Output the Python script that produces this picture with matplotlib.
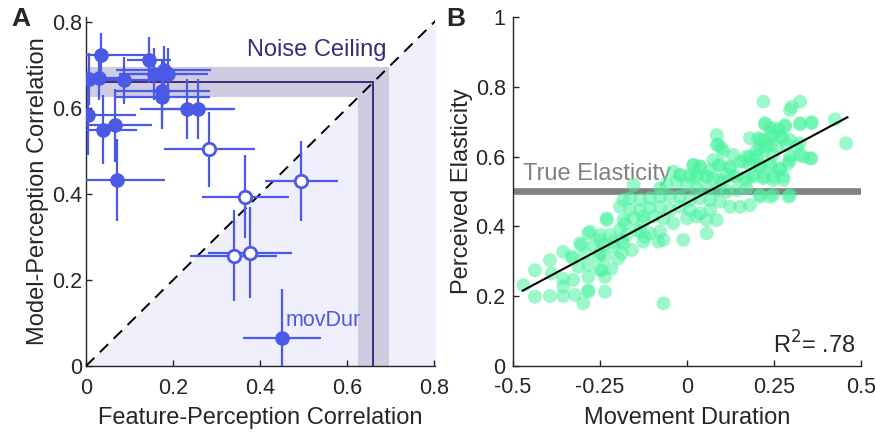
import matplotlib
matplotlib.use("Agg")
import matplotlib.pyplot as plt
import numpy as np

plt.rcParams['font.family'] = ['Liberation Sans', 'DejaVu Sans']

# ---------------- Panel A data ----------------
filled_x = [0.034, 0.145, 0.008, 0.030, 0.088, 0.156, 0.178, 0.189, 0.174, 0.175,
            0.233, 0.256, 0.005, 0.038, 0.067, 0.072, 0.450]
filled_y = [0.723, 0.712, 0.667, 0.669, 0.664, 0.679, 0.687, 0.679, 0.640, 0.626,
            0.598, 0.598, 0.584, 0.549, 0.560, 0.433, 0.066]
filled_xerr = [0.110, 0.050, 0.060, 0.060, 0.090, 0.080, 0.110, 0.090, 0.110, 0.110,
               0.110, 0.080, 0.110, 0.080, 0.085, 0.110, 0.090]
filled_yerr = [0.050, 0.053, 0.060, 0.050, 0.054, 0.060, 0.056, 0.060, 0.070, 0.074,
               0.070, 0.070, 0.093, 0.080, 0.085, 0.095, 0.112]

open_x = [0.283, 0.494, 0.366, 0.339, 0.377]
open_y = [0.504, 0.430, 0.394, 0.256, 0.263]
open_xerr = [0.105, 0.084, 0.099, 0.100, 0.097]
open_yerr = [0.087, 0.094, 0.097, 0.106, 0.106]

noise_ceiling = 0.66
noise_band = [0.625, 0.695]

# ---------------- Panel B data ----------------
mov_dur = [
    0.296, 0.225, 0.253, 0.282, 0.325, 0.358, 0.086, 0.181, 0.210, 0.239,
    0.268, 0.296, 0.325, 0.086, 0.105, 0.134, 0.172, 0.201, 0.229, 0.258,
    0.296, 0.325, 0.354, 0.076, 0.095, 0.124, 0.153, 0.181, 0.210, 0.239,
    0.268, 0.019, 0.038, -0.039, -0.020, 0.009, 0.028, 0.057, 0.076, 0.105,
    0.134, 0.162, 0.191, 0.220, 0.248, 0.277, -0.153, -0.077, -0.058, -0.029,
    0.000, 0.028, 0.057, 0.086, 0.114, 0.143, 0.172, 0.210, 0.239, 0.292,
    -0.182, -0.163, -0.134, -0.106, -0.077, -0.048, -0.020, 0.009, 0.038, 0.067,
    0.095, 0.124, 0.153, 0.181, -0.192, -0.163, -0.134, -0.106, -0.077, -0.048,
    -0.020, 0.009, 0.038, 0.067, -0.230, -0.182, -0.153, -0.125, -0.096, -0.067,
    -0.039, 0.000, 0.028, 0.057, 0.086, -0.278, -0.249, -0.220, -0.192, -0.173,
    -0.134, -0.106, -0.077, 0.057, -0.307, -0.268, -0.240, -0.211, -0.182, -0.125,
    -0.067, -0.010,
    0.220, 0.301, 0.325, 0.425, 0.457,
    -0.469, -0.436, -0.436, -0.393, -0.388, -0.393, -0.355, -0.355, -0.355, -0.355,
    -0.331, -0.326, -0.321, -0.297, -0.283, -0.283, -0.283, -0.254, -0.244, -0.235,
    -0.216, -0.197, -0.158, -0.067, -0.249, -0.249, -0.283, -0.326,
    0.358, 0.224, 0.239, 0.263, 0.282, 0.325, 0.205, 0.224, 0.248, 0.277,
    0.090, 0.100, 0.210, 0.239, 0.287, 0.315, 0.181, 0.201, 0.220, 0.248,
    0.296, 0.334, 0.358, 0.291, 0.019, 0.038, 0.067, 0.090, 0.124, 0.162,
    0.191, 0.210, 0.239, 0.268, -0.020, 0.009, 0.028, 0.057, 0.095, 0.114,
    0.143, 0.172, 0.191, 0.220, 0.248, 0.277, 0.210, 0.248, 0.296,
    -0.302, -0.283, -0.249, -0.230, -0.211, -0.187, -0.177, -0.144, -0.125, -0.120,
    -0.082, -0.187, -0.235, -0.292, -0.311, -0.235,
]
perc_elast = [
    0.734, 0.696, 0.681, 0.691, 0.696, 0.696, 0.662, 0.653, 0.648, 0.662,
    0.657, 0.648, 0.638, 0.634, 0.614, 0.605, 0.600, 0.619, 0.629, 0.629,
    0.590, 0.605, 0.595, 0.590, 0.576, 0.567, 0.586, 0.576, 0.571, 0.581,
    0.562, 0.576, 0.571, 0.557, 0.547, 0.543, 0.547, 0.543, 0.538, 0.528,
    0.543, 0.538, 0.543, 0.543, 0.533, 0.543, 0.519, 0.509, 0.523, 0.528,
    0.519, 0.509, 0.509, 0.504, 0.500, 0.504, 0.509, 0.485, 0.485, 0.485,
    0.476, 0.480, 0.476, 0.480, 0.485, 0.485, 0.485, 0.476, 0.480, 0.476,
    0.471, 0.456, 0.456, 0.461, 0.456, 0.447, 0.447, 0.452, 0.456, 0.447,
    0.456, 0.447, 0.437, 0.447, 0.423, 0.418, 0.423, 0.428, 0.428, 0.423,
    0.409, 0.423, 0.428, 0.418, 0.418, 0.385, 0.375, 0.375, 0.390, 0.375,
    0.385, 0.380, 0.385, 0.380, 0.351, 0.346, 0.346, 0.356, 0.351, 0.356,
    0.361, 0.361,
    0.758, 0.743, 0.758, 0.707, 0.638,
    0.231, 0.274, 0.198, 0.303, 0.265, 0.200, 0.327, 0.250, 0.227, 0.200,
    0.313, 0.246, 0.203, 0.179, 0.289, 0.255, 0.212, 0.313, 0.274, 0.212,
    0.279, 0.308, 0.332, 0.179, 0.322, 0.275, 0.217, 0.308,
    0.699, 0.693, 0.682, 0.677, 0.686, 0.693, 0.653, 0.648, 0.662, 0.653,
    0.634, 0.624, 0.629, 0.634, 0.634, 0.629, 0.600, 0.600, 0.615, 0.605,
    0.600, 0.600, 0.595, 0.581, 0.576, 0.572, 0.562, 0.576, 0.572, 0.586,
    0.591, 0.576, 0.572, 0.567, 0.548, 0.548, 0.538, 0.543, 0.533, 0.548,
    0.543, 0.533, 0.548, 0.538, 0.543, 0.533, 0.490, 0.490, 0.490,
    0.346, 0.380, 0.361, 0.418, 0.341, 0.360, 0.408, 0.389, 0.413, 0.370,
    0.356, 0.322, 0.313, 0.322, 0.284, 0.255,
]
fit_x = [-0.471, 0.461]
fit_slope = 0.534
fit_intercept = 0.467
true_elasticity = 0.5

# ---------------- Styling ----------------
blue = '#4a5ae6'
dark_purple = '#3d2b78'
band_col = '#cfcbe1'
tri_col = '#efeffb'
axis_col = '#262626'
green = '#4cf3a0'
label_fs = 17
tick_fs = 15.5

fig = plt.figure(figsize=(8.75, 4.32), dpi=100)

def style_axes(ax, ypad=3):
    for s in ['top', 'right']:
        ax.spines[s].set_visible(False)
    for s in ['left', 'bottom']:
        ax.spines[s].set_color(axis_col)
        ax.spines[s].set_linewidth(1.0)
    ax.tick_params(direction='in', length=4, width=1.0, colors=axis_col,
                   labelsize=tick_fs)
    ax.tick_params(axis='x', pad=8.5)
    ax.tick_params(axis='y', pad=ypad)

# ---------------- Panel A ----------------
axA = fig.add_axes([0.0983, 0.1528, 0.3992, 0.8085])
axA.set_xlim(0, 0.802)
axA.set_ylim(0, 0.812)
axA.fill_between([0, 0.802], [0, 0.802], [0, 0], color=tri_col, lw=0, zorder=0)
axA.fill_between([0, noise_band[1]], [noise_band[0]] * 2, [noise_band[1]] * 2,
                 color=band_col, lw=0, zorder=1)
axA.fill_between([noise_band[0], noise_band[1]], [0, 0], [noise_band[0]] * 2,
                 color=band_col, lw=0, zorder=1)
axA.plot([0, noise_ceiling], [noise_ceiling, noise_ceiling], color=dark_purple, lw=1.4, zorder=2)
axA.plot([noise_ceiling, noise_ceiling], [0, noise_ceiling], color=dark_purple, lw=1.4, zorder=2)
axA.plot([0, 0.812], [0, 0.812], color='black', lw=1.4, dashes=(6, 4), zorder=3)

axA.errorbar(filled_x, filled_y, xerr=filled_xerr, yerr=filled_yerr, fmt='o',
             color=blue, ms=9.5, mfc=blue, mec=blue, elinewidth=1.6, capsize=0,
             zorder=4)
axA.errorbar(open_x, open_y, xerr=open_xerr, yerr=open_yerr, fmt='o',
             color=blue, ms=9.0, mfc='white', mec=blue, mew=2.0, elinewidth=1.6,
             capsize=0, zorder=4)
axA.text(0.459, 0.106, 'movDur', color=blue, fontsize=15.5, va='center', ha='left', zorder=5)
axA.text(0.369, 0.735, 'Noise Ceiling', color=dark_purple, fontsize=label_fs, va='center',
         ha='left', zorder=5)

axA.set_xticks([0, 0.2, 0.4, 0.6, 0.8])
axA.set_xticklabels(['0', '0.2', '0.4', '0.6', '0.8'])
axA.set_yticks([0, 0.2, 0.4, 0.6, 0.8])
axA.set_yticklabels(['0', '0.2', '0.4', '0.6', '0.8'])
style_axes(axA)
axA.set_xlabel('Feature-Perception Correlation', fontsize=label_fs, color=axis_col, labelpad=6)
axA.set_ylabel('Model-Perception Correlation', fontsize=label_fs, color=axis_col, labelpad=2)
fig.text(0.013, 0.955, 'A', fontsize=19, fontweight='bold', color=axis_col, va='center')

# ---------------- Panel B ----------------
axB = fig.add_axes([0.5859, 0.1535, 0.3981, 0.8065])
axB.set_xlim(-0.5, 0.5)
axB.set_ylim(0, 1.0)
axB.axhline(true_elasticity, color='#808080', lw=4.8, zorder=1)
axB.text(-0.47, 0.549, 'True Elasticity', color='#808080', fontsize=label_fs,
         va='center', ha='left', zorder=1)
axB.scatter(mov_dur, perc_elast, s=100, color=green, alpha=0.55, edgecolors='none', zorder=2)
fx = np.array(fit_x)
axB.plot(fx, fit_intercept + fit_slope * fx, color='black', lw=1.5, zorder=3)
axB.text(0.485, 0.059, r'R$^2$= .78', fontsize=label_fs, ha='right', va='center', color=axis_col)

axB.set_xticks([-0.5, -0.25, 0, 0.25, 0.5])
axB.set_xticklabels(['-0.5', '-0.25', '0', '0.25', '0.5'])
axB.set_yticks([0, 0.2, 0.4, 0.6, 0.8, 1.0])
axB.set_yticklabels(['0', '0.2', '0.4', '0.6', '0.8', '1'])
style_axes(axB, ypad=5)
axB.set_xlabel('Movement Duration', fontsize=label_fs, color=axis_col, labelpad=6)
axB.set_ylabel('Perceived Elasticity', fontsize=label_fs, color=axis_col, labelpad=2)
fig.text(0.51, 0.955, 'B', fontsize=19, fontweight='bold', color=axis_col, va='center')

fig.savefig('out.png', dpi=100)
